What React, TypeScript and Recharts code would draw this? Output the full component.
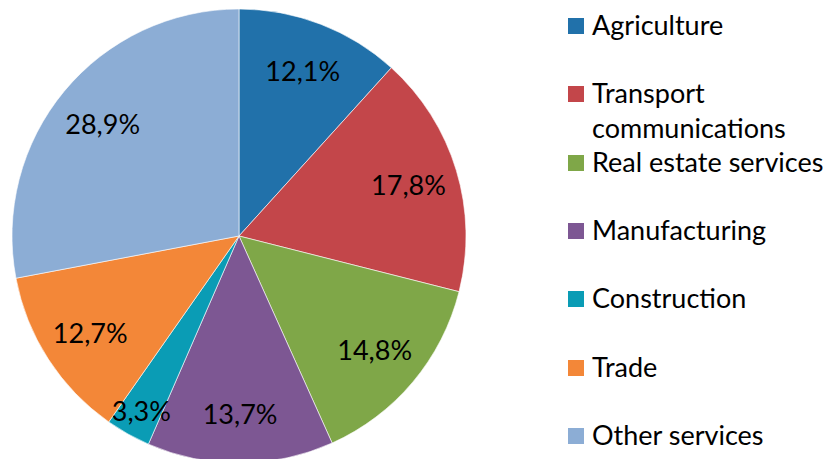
import { Cell, Legend, Pie, PieChart } from "recharts";

const SECTORS = [
  "Agriculture",
  "Transport communications",
  "Real estate services",
  "Manufacturing",
  "Construction",
  "Trade",
  "Other services",
];
const SHARES = [12.1, 17.8, 14.8, 13.7, 3.3, 12.7, 28.9];
const COLORS = ["#2171aa", "#c3464a", "#7fa748", "#7d5793", "#0a9cb5", "#f38738", "#8cadd5"];

const DATA = SECTORS.map((name, i) => ({ name, value: SHARES[i] }));

const FONT = "Lato, 'Open Sans', sans-serif";
const RAD = Math.PI / 180;

function renderLabel(props: any) {
  const { cx, cy, midAngle, outerRadius, percent, value } = props;
  const r = outerRadius * (percent < 0.05 ? 0.88 : 0.78);
  const x = cx + r * Math.cos(-midAngle * RAD);
  const y = cy + r * Math.sin(-midAngle * RAD);
  return (
    <text
      x={x}
      y={y}
      fill="#000"
      fontSize={27}
      fontFamily={FONT}
      textAnchor="middle"
      dominantBaseline="central"
    >
      {value.toFixed(1).replace(".", ",")}%
    </text>
  );
}

function LegendBox() {
  return (
    <div style={{ position: "relative", width: 261, height: 459, fontFamily: FONT }}>
      {DATA.map((d, i) => (
        <div
          key={d.name}
          style={{ position: "absolute", left: 0, top: 7 + i * 68.3, display: "flex", alignItems: "flex-start" }}
        >
          <span
            style={{
              display: "inline-block",
              width: 16,
              height: 16,
              background: COLORS[i],
              marginTop: 11,
              marginRight: 8,
            }}
          />
          <span style={{ fontSize: 27, lineHeight: "35px", color: "#000", width: 240, whiteSpace: "nowrap" }}>
            {d.name === "Transport communications" ? (
              <>
                Transport
                <br />
                communications
              </>
            ) : (
              d.name
            )}
          </span>
        </div>
      ))}
    </div>
  );
}

export default function App() {
  return (
    <div style={{ position: "absolute", left: 0, top: 0, width: 829, height: 459, background: "#fff" }}>
      <PieChart width={829} height={459} margin={{ top: 0, right: 0, bottom: 0, left: 0 }}>
        <Pie
          data={DATA}
          dataKey="value"
          nameKey="name"
          cx={239}
          cy={236}
          outerRadius={227}
          startAngle={90}
          endAngle={-270}
          stroke="#ffffff"
          strokeWidth={0.6}
          label={renderLabel}
          labelLine={false}
          isAnimationActive={false}
        >
          {DATA.map((d, i) => (
            <Cell key={d.name} fill={COLORS[i]} />
          ))}
        </Pie>
        <Legend
          layout="vertical"
          align="right"
          verticalAlign="top"
          wrapperStyle={{ left: 568, top: 0, width: 261 }}
          content={() => <LegendBox />}
        />
      </PieChart>
    </div>
  );
}
